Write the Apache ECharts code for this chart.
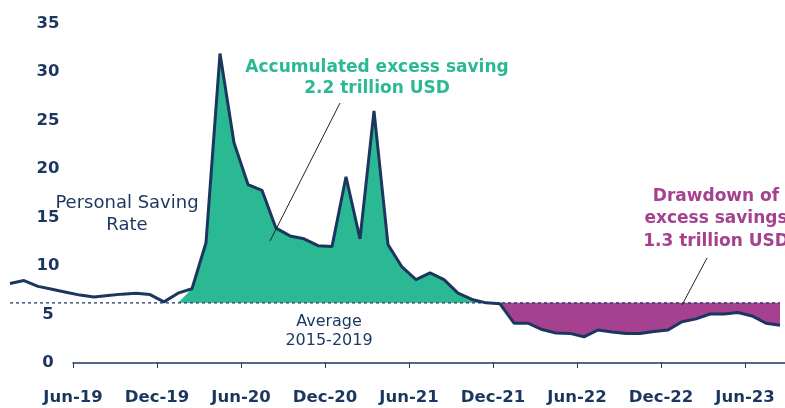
<!DOCTYPE html>
<html style="height: 100%">
<head>
<meta charset="utf-8">
</head>
<body style="height: 100%; margin: 0">
<div id="container" style="width: 785px; height: 408px"></div>
<script type="text/javascript" src="https://cdn.jsdelivr.net/npm/echarts@6/dist/echarts.min.js"></script>
<script type="text/javascript">
// Personal saving rate, monthly, Jan-19 .. Aug-23 (%)
var savingRate = [
    8.2, 8.5, 7.9, 7.6, 7.3, 7.0, 6.8, 6.95, 7.1, 7.2, 7.05, 6.3,
    7.2, 7.65, 12.4, 31.9, 22.7, 18.4, 17.8, 13.9, 13.1, 12.8, 12.1, 12.0,
    19.2, 12.8, 26.0, 12.2, 9.9, 8.6, 9.3, 8.6, 7.2, 6.55, 6.2, 6.1,
    4.1, 4.1, 3.45, 3.1, 3.05, 2.7, 3.4, 3.2, 3.05, 3.05, 3.25, 3.4,
    4.25, 4.55, 5.05, 5.05, 5.2, 4.85, 4.1, 3.9
];
// average 2015-2019
var average = 6.2;
// excess saving: Jan-20 (zero excess) .. Nov-21, drawdown: Dec-21 .. Aug-23
var excessFrom = 12, excessTo = 34;
var drawdownFrom = 35;
var tickLabels = ['Jun-19', 'Dec-19', 'Jun-20', 'Dec-20', 'Jun-21', 'Dec-21', 'Jun-22', 'Dec-22', 'Jun-23'];
var firstTickMonth = 4.5; // Jun-19 tick sits between May-19 and Jun-19

var navy = '#1b365f';
var green = '#2bb994';
var magenta = '#a5418f';
var fam = '"DejaVu Sans"';

var lineData = savingRate.map(function (v, i) { return [i, v]; });
var baseData = savingRate.map(function (v, i) { return [i, average]; });
var excessData = savingRate.map(function (v, i) {
    if (i === excessFrom) return [i, average];
    return [i, (i > excessFrom && i <= excessTo) ? v : null];
});
var drawdownData = savingRate.map(function (v, i) {
    return [i, i >= drawdownFrom ? v : null];
});

var monthPx = 14;
var dataLeft = 10;
var axisLeft = dataLeft + firstTickMonth * monthPx;

var dom = document.getElementById('container');
var myChart = echarts.init(dom);
var option = {
    backgroundColor: '#fff',
    animation: false,
    grid: [
        {left: dataLeft, right: 5, top: 23.5, bottom: 45},
        {left: axisLeft, right: 0, top: 23.5, bottom: 45}
    ],
    xAxis: [
        {gridIndex: 0, type: 'value', min: 0, max: savingRate.length - 1, show: false},
        {
            gridIndex: 1, type: 'value', min: 0, max: (785 - axisLeft) / monthPx, interval: 6,
            axisLine: {lineStyle: {color: navy, width: 1.5}},
            axisTick: {length: 5, lineStyle: {color: navy, width: 1}},
            splitLine: {show: false},
            axisLabel: {
                margin: 26,
                color: navy,
                fontFamily: fam, fontWeight: 'bold', fontSize: 16.5,
                showMaxLabel: false,
                formatter: function (v) {
                    var k = Math.round(v / 6);
                    return Math.abs(v - k * 6) < 1e-6 && tickLabels[k] ? tickLabels[k] : '';
                }
            }
        }
    ],
    yAxis: [
        {gridIndex: 0, type: 'value', min: 0, max: 35, show: false},
        {
            gridIndex: 1, type: 'value', min: 0, max: 35, interval: 5,
            axisLine: {show: false},
            axisTick: {show: false},
            splitLine: {show: false},
            axisLabel: {margin: 25, align: 'center', color: navy, fontFamily: fam, fontWeight: 'bold', fontSize: 16.5}
        }
    ],
    series: [
        {
            type: 'line', xAxisIndex: 0, yAxisIndex: 0,
            data: excessData, showSymbol: false, connectNulls: false,
            lineStyle: {width: 0},
            areaStyle: {color: green, opacity: 1, origin: average},
            z: 2
        },
        {
            type: 'line', xAxisIndex: 0, yAxisIndex: 0,
            data: drawdownData, showSymbol: false, connectNulls: false,
            lineStyle: {width: 0},
            areaStyle: {color: magenta, opacity: 1, origin: average},
            z: 2
        },
        {
            type: 'line', xAxisIndex: 0, yAxisIndex: 0,
            data: baseData, showSymbol: false, silent: true,
            lineStyle: {color: navy, width: 1.2, type: [3, 3]},
            z: 3
        },
        {
            type: 'line', xAxisIndex: 0, yAxisIndex: 0,
            data: lineData, showSymbol: false,
            lineStyle: {color: navy, width: 3},
            z: 4
        }
    ],
    graphic: [
        {
            type: 'text', z: 10,
            style: {x: 127, y: 214, text: 'Personal Saving\nRate', align: 'center', verticalAlign: 'middle',
                font: '18px ' + fam, fill: navy, lineHeight: 22}
        },
        {
            type: 'text', z: 10,
            style: {x: 329, y: 331, text: 'Average\n2015-2019', align: 'center', verticalAlign: 'middle',
                font: '16px ' + fam, fill: navy, lineHeight: 19}
        },
        {
            type: 'text', z: 10,
            style: {x: 377, y: 78, text: 'Accumulated excess saving\n2.2 trillion USD', align: 'center', verticalAlign: 'middle',
                font: 'bold 17px ' + fam, fill: green, lineHeight: 21}
        },
        {
            type: 'text', z: 10,
            style: {x: 716, y: 219, text: 'Drawdown of\nexcess savings\n1.3 trillion USD', align: 'center', verticalAlign: 'middle',
                font: 'bold 17px ' + fam, fill: magenta, lineHeight: 22.5}
        },
        {
            type: 'line', z: 10,
            shape: {x1: 270, y1: 241, x2: 340, y2: 103},
            style: {stroke: '#222', lineWidth: 1}
        },
        {
            type: 'line', z: 10,
            shape: {x1: 707, y1: 258, x2: 682, y2: 305},
            style: {stroke: '#222', lineWidth: 1}
        }
    ]
};
myChart.setOption(option);
</script>
</body>
</html>
